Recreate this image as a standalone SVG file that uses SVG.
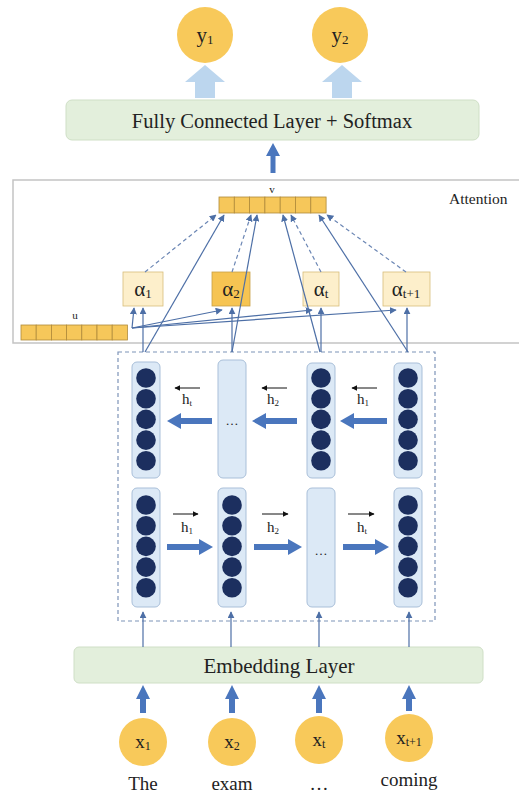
<svg xmlns="http://www.w3.org/2000/svg" width="519" height="794" viewBox="0 0 519 794">
  <style>
    .serif { font-family: "Liberation Serif", "Times New Roman", serif; fill: #222; }
    .tok { fill: #f8c95a; }
    .layer { fill: #e3efdc; stroke: #cfdfc6; stroke-width: 1; }
    .cell { fill: #f6c75a; stroke: #b08a3a; stroke-width: 0.8; }
    .alpha { fill: #fdefcb; stroke: #d8bd7a; stroke-width: 0.8; }
    .alpha-hi { fill: #f6c452; stroke: #c9a046; stroke-width: 0.8; }
    .col { fill: #dce9f6; stroke: #a9bfd9; stroke-width: 1; }
    .unit { fill: #1c2f5f; }
    .thin { stroke: #4d6fa6; stroke-width: 1.2; fill: none; marker-end: url(#tip); }
    .dash { stroke: #6b86b4; stroke-width: 1.2; fill: none; stroke-dasharray: 4 3; marker-end: url(#tip); }
    .block { fill: #4a76bd; }
    .soft { fill: #bcd6ee; }
    .tiny { stroke: #111; stroke-width: 1; marker-end: url(#ktip); }
  </style>
  <defs>
    <marker id="tip" viewBox="0 0 10 10" refX="9" refY="5" markerWidth="7" markerHeight="7" markerUnits="userSpaceOnUse" orient="auto">
      <path d="M0,0 L10,5 L0,10 Z" fill="#4d6fa6"/>
    </marker>
    <marker id="ktip" viewBox="0 0 10 10" refX="9" refY="5" markerWidth="6" markerHeight="6" markerUnits="userSpaceOnUse" orient="auto">
      <path d="M0,0 L10,5 L0,10 Z" fill="#111"/>
    </marker>
    <g id="stack">
      <circle cx="0" cy="0" r="9.8" class="unit"/>
      <circle cx="0" cy="20.7" r="9.8" class="unit"/>
      <circle cx="0" cy="41.4" r="9.8" class="unit"/>
      <circle cx="0" cy="62.1" r="9.8" class="unit"/>
      <circle cx="0" cy="82.8" r="9.8" class="unit"/>
    </g>
  </defs>

  <rect width="519" height="794" fill="#ffffff"/>

  <!-- outputs -->
  <g id="y1">
    <circle cx="205" cy="35" r="28" class="tok"/>
    <text x="205" y="42" class="serif" font-size="21" text-anchor="middle">y<tspan font-size="13" dy="2">1</tspan></text>
  </g>
  <g id="y2">
    <circle cx="340" cy="35" r="28" class="tok"/>
    <text x="340" y="42" class="serif" font-size="21" text-anchor="middle">y<tspan font-size="13" dy="2">2</tspan></text>
  </g>

  <!-- fully connected layer -->
  <g id="fc">
    <rect x="66" y="100" width="413" height="40" rx="6" class="layer"/>
    <text x="272" y="128" class="serif" font-size="20.5" text-anchor="middle">Fully Connected Layer + Softmax</text>
  </g>

  <!-- attention panel -->
  <g id="attention">
    <path d="M519,180 H13 V343 H519" fill="none" stroke="#c4c4c4" stroke-width="1.5"/>
    <text x="449" y="204" class="serif" font-size="15.5">Attention</text>
  </g>

  <g id="v">
    <text x="272" y="193" class="serif" font-size="11" text-anchor="middle">v</text>
    <rect x="219.0" y="197" width="15.3" height="16" class="cell"/>
    <rect x="234.3" y="197" width="15.3" height="16" class="cell"/>
    <rect x="249.6" y="197" width="15.3" height="16" class="cell"/>
    <rect x="264.9" y="197" width="15.3" height="16" class="cell"/>
    <rect x="280.2" y="197" width="15.3" height="16" class="cell"/>
    <rect x="295.5" y="197" width="15.3" height="16" class="cell"/>
    <rect x="310.8" y="197" width="15.3" height="16" class="cell"/>
  </g>

  <g id="u">
    <text x="75" y="319" class="serif" font-size="11" text-anchor="middle">u</text>
    <rect x="21.0" y="325" width="15.2" height="15" class="cell"/>
    <rect x="36.2" y="325" width="15.2" height="15" class="cell"/>
    <rect x="51.4" y="325" width="15.2" height="15" class="cell"/>
    <rect x="66.6" y="325" width="15.2" height="15" class="cell"/>
    <rect x="81.8" y="325" width="15.2" height="15" class="cell"/>
    <rect x="97.0" y="325" width="15.2" height="15" class="cell"/>
    <rect x="112.2" y="325" width="15.2" height="15" class="cell"/>
  </g>

  <g id="alpha1">
    <rect x="123" y="272" width="40" height="34" class="alpha"/>
    <text x="143" y="296" class="serif" font-size="21" text-anchor="middle">α<tspan font-size="13" dy="2">1</tspan></text>
  </g>
  <g id="alpha2">
    <rect x="212" y="272" width="38" height="34" class="alpha-hi"/>
    <text x="231" y="296" class="serif" font-size="21" text-anchor="middle">α<tspan font-size="13" dy="2">2</tspan></text>
  </g>
  <g id="alphat">
    <rect x="303" y="272" width="36" height="34" class="alpha"/>
    <text x="321" y="296" class="serif" font-size="21" text-anchor="middle">α<tspan font-size="13" dy="2">t</tspan></text>
  </g>
  <g id="alphat1">
    <rect x="383" y="272" width="47" height="34" class="alpha"/>
    <text x="406" y="296" class="serif" font-size="21" text-anchor="middle">α<tspan font-size="13" dy="2">t+1</tspan></text>
  </g>

  <!-- BiLSTM frame -->
  <g id="bilstm">
    <rect x="118" y="352" width="317" height="269" fill="none" stroke="#7d93b8" stroke-width="1.2" stroke-dasharray="4 3"/>
  </g>

  <!-- backward layer -->
  <g id="back1">
    <rect x="132" y="362" width="28" height="116" rx="5" class="col"/>
    <use href="#stack" x="146" y="378"/>
  </g>
  <g id="back2">
    <rect x="218" y="360" width="28" height="118" rx="5" class="col"/>
    <text x="232" y="425" class="serif" font-size="13" text-anchor="middle">…</text>
  </g>
  <g id="back3">
    <rect x="307" y="363" width="28" height="115" rx="5" class="col"/>
    <use href="#stack" x="321" y="378"/>
  </g>
  <g id="back4">
    <rect x="394" y="363" width="28" height="115" rx="5" class="col"/>
    <use href="#stack" x="408" y="378"/>
  </g>

  <!-- forward layer -->
  <g id="fwd1">
    <rect x="132" y="488" width="28" height="119" rx="5" class="col"/>
    <use href="#stack" x="146" y="505"/>
  </g>
  <g id="fwd2">
    <rect x="218" y="488" width="28" height="119" rx="5" class="col"/>
    <use href="#stack" x="232" y="505"/>
  </g>
  <g id="fwd3">
    <rect x="307" y="488" width="28" height="119" rx="5" class="col"/>
    <text x="321" y="555" class="serif" font-size="13" text-anchor="middle">…</text>
  </g>
  <g id="fwd4">
    <rect x="394" y="488" width="28" height="119" rx="5" class="col"/>
    <use href="#stack" x="408" y="505"/>
  </g>

  <!-- hidden state labels -->
  <g id="hidden-labels" class="serif" font-size="15">
    <line x1="200" y1="388" x2="175" y2="388" class="tiny"/>
    <text x="187" y="404" text-anchor="middle">h<tspan font-size="9" dy="2">t</tspan></text>
    <line x1="287" y1="388" x2="262" y2="388" class="tiny"/>
    <text x="273" y="404" text-anchor="middle">h<tspan font-size="9" dy="2">2</tspan></text>
    <line x1="377" y1="388" x2="352" y2="388" class="tiny"/>
    <text x="363" y="404" text-anchor="middle">h<tspan font-size="9" dy="2">1</tspan></text>

    <line x1="173" y1="514" x2="198" y2="514" class="tiny"/>
    <text x="187" y="532" text-anchor="middle">h<tspan font-size="9" dy="2">1</tspan></text>
    <line x1="262" y1="514" x2="288" y2="514" class="tiny"/>
    <text x="273" y="532" text-anchor="middle">h<tspan font-size="9" dy="2">2</tspan></text>
    <line x1="348" y1="514" x2="374" y2="514" class="tiny"/>
    <text x="362" y="532" text-anchor="middle">h<tspan font-size="9" dy="2">t</tspan></text>
  </g>

  <!-- embedding layer -->
  <g id="embedding">
    <rect x="74" y="647" width="409" height="36" rx="5" class="layer"/>
    <text x="279" y="673" class="serif" font-size="21" text-anchor="middle">Embedding Layer</text>
  </g>

  <!-- inputs -->
  <g id="x1">
    <circle cx="143" cy="742" r="24" class="tok"/>
    <text x="143" y="748" class="serif" font-size="19" text-anchor="middle">x<tspan font-size="12" dy="2">1</tspan></text>
    <text x="143" y="790" class="serif" font-size="19" text-anchor="middle">The</text>
  </g>
  <g id="x2">
    <circle cx="232" cy="742" r="24" class="tok"/>
    <text x="232" y="748" class="serif" font-size="19" text-anchor="middle">x<tspan font-size="12" dy="2">2</tspan></text>
    <text x="232" y="790" class="serif" font-size="19" text-anchor="middle">exam</text>
  </g>
  <g id="xt">
    <circle cx="319" cy="740" r="24" class="tok"/>
    <text x="319" y="746" class="serif" font-size="19" text-anchor="middle">x<tspan font-size="12" dy="2">t</tspan></text>
    <text x="319" y="790" class="serif" font-size="19" text-anchor="middle">…</text>
  </g>
  <g id="xt1">
    <circle cx="409" cy="738" r="24" class="tok"/>
    <text x="409" y="744" class="serif" font-size="19" text-anchor="middle">x<tspan font-size="12" dy="2">t+1</tspan></text>
    <text x="409" y="786" class="serif" font-size="19" text-anchor="middle">coming</text>
  </g>

  <!-- connectors -->
  <g id="connectors">
    <!-- softmax outputs -->
    <path class="soft" d="M205,65 L225,82 L215,82 L215,98 L195,98 L195,82 L185,82 Z"/>
    <path class="soft" d="M342,65 L362,82 L352,82 L352,98 L332,98 L332,82 L322,82 Z"/>
    <!-- attention output to FC -->
    <path class="block" d="M273,143 L280,156 L275.5,156 L275.5,173 L270.5,173 L270.5,156 L266,156 Z"/>

    <!-- alpha weights to v -->
    <line x1="145" y1="272" x2="216" y2="215" class="dash"/>
    <line x1="232" y1="272" x2="251" y2="215" class="dash"/>
    <line x1="321" y1="272" x2="291" y2="215" class="dash"/>
    <line x1="406" y1="272" x2="327" y2="215" class="dash"/>

    <!-- hidden states to v -->
    <line x1="145" y1="352" x2="224" y2="215" class="thin"/>
    <line x1="232" y1="352" x2="257" y2="215" class="thin"/>
    <line x1="320" y1="352" x2="283" y2="215" class="thin"/>
    <line x1="408" y1="352" x2="319" y2="215" class="thin"/>

    <!-- hidden states to alpha -->
    <line x1="143" y1="352" x2="143" y2="308" class="thin"/>
    <line x1="232" y1="352" x2="232" y2="308" class="thin"/>
    <line x1="321" y1="352" x2="321" y2="308" class="thin"/>
    <line x1="407" y1="352" x2="407" y2="308" class="thin"/>

    <!-- u to alpha -->
    <line x1="132" y1="328" x2="134" y2="308" class="thin"/>
    <line x1="132" y1="328" x2="222" y2="310" class="thin"/>
    <line x1="132" y1="328" x2="312" y2="310" class="thin"/>
    <line x1="132" y1="328" x2="396" y2="310" class="thin"/>

    <!-- backward recurrences -->
    <path class="block" d="M167,421 L181,413 L181,418 L212,418 L212,424 L181,424 L181,429 Z"/>
    <path class="block" d="M252,421 L266,413 L266,418 L297,418 L297,424 L266,424 L266,429 Z"/>
    <path class="block" d="M340,421 L354,413 L354,418 L387,418 L387,424 L354,424 L354,429 Z"/>

    <!-- forward recurrences -->
    <path class="block" d="M213,547 L199,539 L199,544 L167,544 L167,550 L199,550 L199,555 Z"/>
    <path class="block" d="M302,547 L288,539 L288,544 L254,544 L254,550 L288,550 L288,555 Z"/>
    <path class="block" d="M389,547 L375,539 L375,544 L343,544 L343,550 L375,550 L375,555 Z"/>

    <!-- embedding to BiLSTM -->
    <line x1="143" y1="647" x2="143" y2="612" class="thin"/>
    <line x1="231" y1="647" x2="231" y2="612" class="thin"/>
    <line x1="319" y1="647" x2="319" y2="612" class="thin"/>
    <line x1="409" y1="647" x2="409" y2="612" class="thin"/>

    <!-- inputs to embedding -->
    <path class="block" d="M143,685 L150,699 L146,699 L146,713 L140,713 L140,699 L136,699 Z"/>
    <path class="block" d="M232,685 L239,699 L235,699 L235,713 L229,713 L229,699 L225,699 Z"/>
    <path class="block" d="M319,685 L326,699 L322,699 L322,713 L316,713 L316,699 L312,699 Z"/>
    <path class="block" d="M409,685 L416,699 L412,699 L412,711 L406,711 L406,699 L402,699 Z"/>
  </g>
</svg>
